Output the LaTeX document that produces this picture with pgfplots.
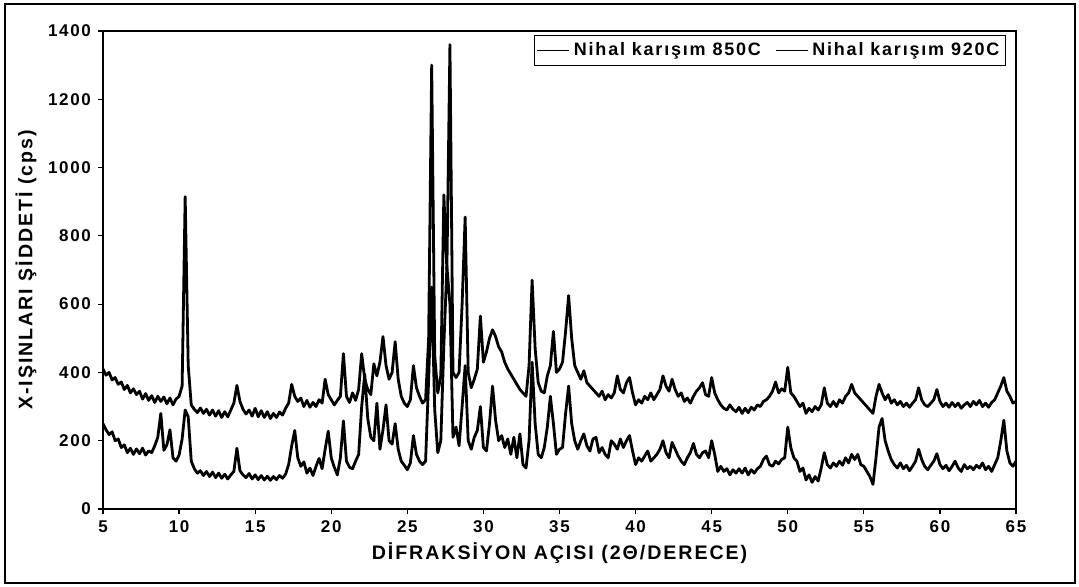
\documentclass[border=0pt]{standalone}
\usepackage{fontspec}
\setmainfont{Liberation Sans}[LetterSpace=10]
\usepackage{pgfplots}
\pgfplotsset{compat=1.18}
\usepackage{pgfplotstable}
\pgfplotstableread{
x u l
5.0 410 250
5.2 392 232
5.4 400 218
5.6 378 226
5.8 385 200
6.0 365 205
6.2 372 180
6.4 350 188
6.6 362 165
6.8 340 178
7.0 352 160
7.2 335 176
7.4 345 162
7.6 322 178
7.8 338 158
8.0 318 170
8.2 332 165
8.4 312 185
8.6 330 210
8.8 315 280
9.0 328 172
9.2 308 188
9.4 325 232
9.6 305 150
9.8 322 140
10.0 330 158
10.2 360 205
10.4 915 290
10.6 420 270
10.8 305 140
11.0 292 118
11.2 282 105
11.4 296 112
11.6 280 98
11.8 292 110
12.0 275 95
12.2 290 108
12.4 272 92
12.6 288 105
12.8 268 90
13.0 285 102
13.2 270 88
13.4 290 100
13.6 310 110
13.8 362 178
14.0 315 112
14.2 292 100
14.4 278 92
14.6 290 104
14.8 272 88
15.0 295 100
15.2 270 86
15.4 288 98
15.6 268 85
15.8 285 96
16.0 265 84
16.2 280 95
16.4 268 86
16.6 284 98
16.8 275 90
17.0 295 102
17.2 310 130
17.4 365 185
17.6 330 230
17.8 315 150
18.0 325 125
18.2 300 138
18.4 318 105
18.6 298 120
18.8 312 98
19.0 300 125
19.2 320 148
19.4 310 118
19.6 380 175
19.8 335 228
20.0 320 150
20.2 305 122
20.4 318 100
20.6 330 150
20.8 455 258
21.0 330 140
21.2 312 122
21.4 340 118
21.6 318 140
21.8 350 160
22.0 455 300
22.2 380 395
22.4 350 265
22.6 335 210
22.8 425 200
23.0 390 310
23.2 430 175
23.4 505 232
23.6 420 305
23.8 380 200
24.0 400 190
24.2 490 250
24.4 380 175
24.6 330 140
24.8 310 128
25.0 300 115
25.2 320 135
25.4 420 215
25.6 355 160
25.8 330 140
26.0 310 130
26.2 320 140
26.4 500 380
26.6 1300 650
26.8 450 290
27.0 340 165
27.2 390 200
27.4 920 480
27.6 700 710
27.8 1360 600
28.0 400 210
28.2 385 240
28.4 400 185
28.6 600 300
28.8 855 420
29.0 400 200
29.2 355 175
29.4 380 210
29.6 410 230
29.8 565 300
30.0 430 180
30.2 460 170
30.4 500 250
30.6 525 360
30.8 505 260
31.0 475 200
31.2 460 215
31.4 430 180
31.6 410 205
31.8 395 160
32.0 380 210
32.2 365 150
32.4 350 220
32.6 340 130
32.8 330 120
33.0 420 200
33.2 670 430
33.4 470 250
33.6 370 160
33.8 345 150
34.0 340 180
34.2 390 240
34.4 420 330
34.6 520 250
34.8 400 160
35.0 410 175
35.2 430 180
35.4 520 280
35.6 625 360
35.8 500 250
36.0 420 200
36.2 400 175
36.4 380 200
36.6 405 220
36.8 370 185
37.0 360 170
37.2 350 205
37.4 340 210
37.6 330 165
37.8 345 180
38.0 320 160
38.2 335 150
38.4 325 200
38.6 340 190
38.8 390 175
39.0 350 205
39.2 340 180
39.4 370 200
39.6 385 215
39.8 340 170
40.0 305 130
40.2 320 150
40.4 310 140
40.6 330 155
40.8 320 170
41.0 340 140
41.2 320 150
41.4 335 160
41.6 350 175
41.8 390 200
42.0 360 165
42.2 345 150
42.4 380 195
42.6 350 175
42.8 330 155
43.0 340 140
43.2 315 130
43.4 325 150
43.6 310 165
43.8 330 192
44.0 345 160
44.2 355 150
44.4 370 165
44.6 335 170
44.8 330 150
45.0 385 200
45.2 340 160
45.4 320 110
45.6 305 125
45.8 295 110
46.0 290 118
46.2 305 100
46.4 292 115
46.6 285 105
46.8 298 118
47.0 280 105
47.2 295 120
47.4 282 100
47.6 298 115
47.8 290 105
48.0 305 118
48.2 300 125
48.4 315 145
48.6 320 155
48.8 330 130
49.0 345 125
49.2 372 140
49.4 340 132
49.6 352 145
49.8 345 150
50.0 415 240
50.2 340 180
50.4 330 150
50.6 315 140
50.8 300 110
51.0 310 120
51.2 280 85
51.4 295 100
51.6 285 78
51.8 300 95
52.0 290 82
52.2 305 120
52.4 355 165
52.6 310 130
52.8 300 120
53.0 315 135
53.2 300 125
53.4 320 140
53.6 310 128
53.8 330 150
54.0 340 135
54.2 365 160
54.4 340 145
54.6 330 160
54.8 320 130
55.0 310 125
55.2 300 110
55.4 290 95
55.6 280 72
55.8 330 150
56.0 365 240
56.2 340 265
56.4 320 200
56.6 335 170
56.8 310 145
57.0 320 130
57.2 305 120
57.4 315 135
57.6 300 118
57.8 310 128
58.0 298 112
58.2 310 125
58.4 320 140
58.6 355 175
58.8 320 145
59.0 305 125
59.2 300 115
59.4 310 128
59.6 320 140
59.8 350 162
60.0 315 130
60.2 300 118
60.4 310 128
60.6 298 112
60.8 312 125
61.0 300 140
61.2 310 120
61.4 295 110
61.6 305 130
61.8 312 118
62.0 300 125
62.2 315 115
62.4 305 128
62.6 318 120
62.8 300 135
63.0 310 115
63.2 298 125
63.4 312 110
63.6 320 130
63.8 340 150
64.0 360 200
64.2 385 260
64.4 345 170
64.6 330 135
64.8 310 125
65.0 315 140
}\xrd
\begin{document}
\begin{tikzpicture}
\path (0pt,0pt) rectangle (539.5pt,293.5pt);
\draw[line width=1pt] (2.5pt,2pt) rectangle (537.5pt,291.5pt);
\begin{axis}[
  at={(51.5pt,39pt)}, anchor=south west, scale only axis,
  width=456.5pt, height=239pt,
  xmin=5, xmax=65, ymin=0, ymax=1400,
  xtick={5,10,...,65}, ytick={0,200,...,1400},
  tick align=outside, tick pos=left, major tick length=2.5pt,
  axis line style={line width=0.6pt},
  tick style={line width=0.6pt, black},
  /pgf/number format/assume math mode=true,
  /pgf/number format/1000 sep={},
  ticklabel style={font=\bfseries\fontsize{8.5}{10}\selectfont},
  xlabel={DİFRAKSİYON AÇISI (2Θ/DERECE)},
  ylabel={X-IŞINLARI ŞİDDETİ (cps)},
  label style={font=\bfseries\fontsize{9.8}{11}\selectfont},
  xlabel style={at={(axis description cs:0.5,-0.092)}, anchor=center},
  ylabel style={at={(axis description cs:-0.0843,0.5)}, anchor=center},
  legend columns=2,
  legend style={at={(axis description cs:0.989,0.992)}, anchor=north east,
    draw=black, line width=0.5pt, inner xsep=1pt, inner ysep=1.5pt,
    font=\bfseries\fontsize{9}{11}\selectfont,
    /tikz/every even column/.append style={column sep=5pt}},
  legend image code/.code={\draw[#1, line width=0.7pt] (0pt,0pt) -- (16pt,0pt);},
]
\addplot[black, line width=1.4pt, line join=round] table[x=x, y=u] {\xrd};
\addlegendentry{Nihal karışım 850C}
\addplot[black, line width=1.4pt, line join=round] table[x=x, y=l] {\xrd};
\addlegendentry{Nihal karışım 920C}
\end{axis}
\end{tikzpicture}
\end{document}
